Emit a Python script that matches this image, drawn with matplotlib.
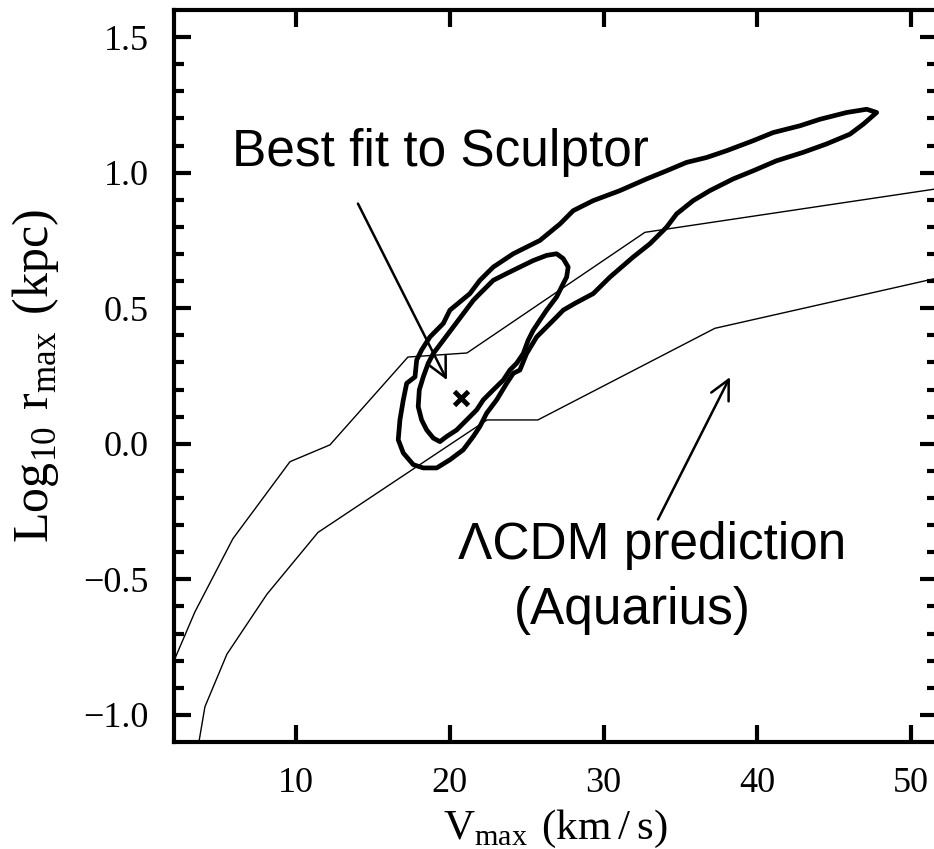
import matplotlib
matplotlib.use("Agg")
import matplotlib.pyplot as plt

# LCDM (Aquarius) envelope: Vmax [km/s] vs log10 rmax [kpc]
lcdm_upper_v = [2.07, 3.43, 5.90, 9.61, 12.21, 17.28, 21.12, 32.69, 51.6]
lcdm_upper_r = [-0.80, -0.62, -0.35, -0.066, -0.004, 0.32, 0.335, 0.78, 0.94]
lcdm_lower_v = [3.69, 4.08, 5.51, 8.11, 11.43, 22.42, 25.73, 37.24, 51.6]
lcdm_lower_r = [-1.10, -0.97, -0.776, -0.555, -0.327, 0.088, 0.088, 0.426, 0.61]

# likelihood contours for Sculptor
inner_v = [26.95, 27.38, 27.70, 27.60, 27.38, 26.95, 26.30, 25.86, 25.43, 25.10,
           24.78, 24.35, 23.91, 23.48, 22.83, 22.18, 21.75, 21.10, 20.45, 19.80,
           19.36, 18.93, 18.50, 18.17, 17.95, 18.02, 18.28, 18.60, 18.93, 19.58,
           20.23, 20.88, 21.53, 21.96, 22.83, 23.70, 24.56, 25.43, 26.30]
inner_r = [0.701, 0.683, 0.652, 0.615, 0.591, 0.542, 0.493, 0.456, 0.419, 0.382,
           0.333, 0.297, 0.272, 0.235, 0.199, 0.162, 0.125, 0.088, 0.051, 0.027,
           0.008, 0.021, 0.051, 0.088, 0.137, 0.199, 0.247, 0.297, 0.333, 0.382,
           0.431, 0.480, 0.529, 0.554, 0.603, 0.628, 0.652, 0.676, 0.695]

outer_v = [47.76, 47.11, 45.81, 44.07, 42.77, 41.03, 39.73, 38.00, 36.70, 35.40,
           34.10, 32.80, 31.07, 29.33, 28.03, 27.17, 25.86, 24.13, 22.83, 21.96,
           21.31, 20.01, 19.58, 18.71, 18.17, 17.85, 17.74, 17.20, 16.98, 16.76,
           16.65, 16.98, 17.63, 18.28, 19.15, 20.01, 20.88, 21.53, 21.96, 22.40,
           23.05, 23.70, 24.13, 24.56, 25.00, 25.65, 26.30, 26.95, 27.38, 28.14,
           29.33, 30.42, 31.93, 33.02, 34.10, 34.75, 35.83, 36.92, 38.43, 39.73,
           41.25, 42.98, 44.50, 46.02, 46.89]
outer_r = [1.222, 1.234, 1.222, 1.197, 1.173, 1.148, 1.118, 1.081, 1.056, 1.038,
           1.007, 0.977, 0.934, 0.897, 0.860, 0.811, 0.750, 0.701, 0.652, 0.603,
           0.554, 0.493, 0.444, 0.394, 0.346, 0.309, 0.247, 0.223, 0.162, 0.088,
           0.015, -0.034, -0.077, -0.089, -0.089, -0.059, -0.022, 0.027, 0.064, 0.113,
           0.162, 0.223, 0.260, 0.272, 0.333, 0.394, 0.431, 0.468, 0.493, 0.518,
           0.554, 0.615, 0.689, 0.738, 0.799, 0.848, 0.897, 0.934, 0.977, 1.007,
           1.044, 1.075, 1.106, 1.142, 1.179]

best_fit = (20.7, 0.17)

x_ticks = [10, 20, 30, 40, 50]
y_ticks = [-1.0, -0.5, 0.0, 0.5, 1.0, 1.5]
y_ticklabels = ['\u22121.0', '\u22120.5', '0.0', '0.5', '1.0', '1.5']

plt.rcParams['mathtext.fontset'] = 'custom'
plt.rcParams['mathtext.rm'] = 'Liberation Serif'
plt.rcParams['mathtext.bf'] = 'Liberation Serif:bold'
plt.rcParams['font.family'] = 'Liberation Serif'

fig = plt.figure(figsize=(9.34, 8.49), dpi=100)
ax = fig.add_axes([0.1863, 0.1260, 0.8172, 0.8622])

ax.plot(lcdm_upper_v, lcdm_upper_r, color='black', lw=1.0)
ax.plot(lcdm_lower_v, lcdm_lower_r, color='black', lw=1.0)

ax.fill(inner_v, inner_r, facecolor='none', edgecolor='black', lw=3.4, joinstyle='round')
ax.fill(outer_v, outer_r, facecolor='none', edgecolor='black', lw=3.4, joinstyle='round')

ax.plot(best_fit[0], best_fit[1], marker='x', color='black', ms=10, mew=3.5)

ax.set_xlim(2.07, 51.7)
ax.set_ylim(-1.1, 1.6)
ax.set_xticks(x_ticks)
ax.set_yticks(y_ticks)
ax.set_yticks([v / 10 for v in range(-10, 16)], minor=True)
ax.set_yticklabels(y_ticklabels)

ax.tick_params(which='both', direction='in', top=True, right=True, width=3,
               labelsize=26, pad=18)
ax.tick_params(which='major', length=12)
ax.tick_params(which='minor', length=7)
for sp in ax.spines.values():
    sp.set_linewidth(3)

ax.set_xlabel(r'$\mathrm{V}_{\mathrm{max}}\ \mathrm{(km\,/\,s)}$', fontsize=31, labelpad=6)
ax.set_ylabel(r'$\mathrm{Log}_{\mathrm{10}}\ \mathrm{r}_{\mathrm{max}}\ \mathrm{(kpc)}$',
              fontsize=36, labelpad=16)

# annotations
sans = 'Liberation Sans'
ax.text(5.84, 1.026, 'Best fit to Sculptor', family=sans, fontsize=37,
        ha='left', va='baseline')
ax.annotate('', xy=(19.82, 0.235), xytext=(14.03, 0.886),
            arrowprops=dict(arrowstyle='->, head_length=0.7, head_width=0.35',
                            lw=1.8, color='black', mutation_scale=20,
                            shrinkA=0, shrinkB=0))
ax.text(33.15, -0.426, '\u039bCDM prediction', family=sans, fontsize=37,
        ha='center', va='baseline')
ax.text(31.85, -0.665, '(Aquarius)', family=sans, fontsize=37,
        ha='center', va='baseline')
ax.annotate('', xy=(38.22, 0.246), xytext=(33.54, -0.279),
            arrowprops=dict(arrowstyle='->, head_length=0.7, head_width=0.35',
                            lw=1.8, color='black', mutation_scale=20,
                            shrinkA=0, shrinkB=0))

fig.savefig('out.png', dpi=100)
